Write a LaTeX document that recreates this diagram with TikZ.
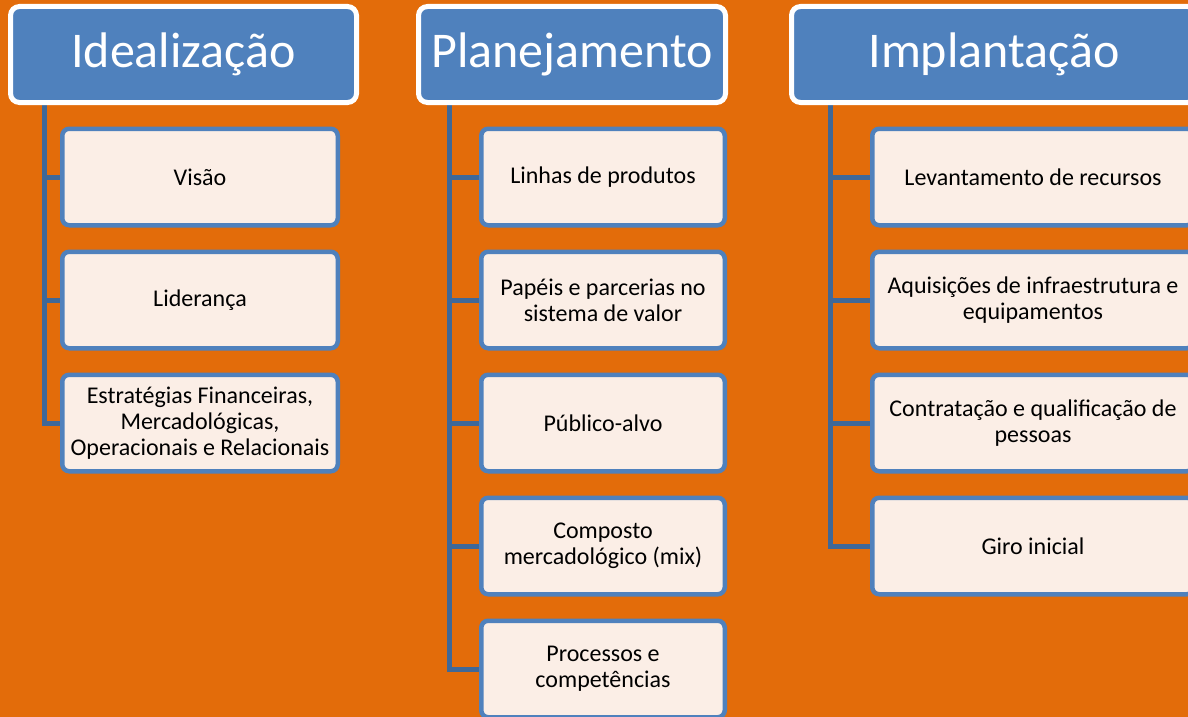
\documentclass[tikz,border=0pt]{standalone}
\usepackage{fontspec}
\setmainfont{Carlito}
\usetikzlibrary{backgrounds}
\definecolor{bgorange}{HTML}{E36C0A}
\definecolor{hdblue}{HTML}{4F81BD}
\definecolor{linkblue}{HTML}{3F6898}
\definecolor{itemfill}{HTML}{FBEEE6}

\begin{document}
\begin{tikzpicture}[x=1pt, y=-1pt,
    head/.style={draw=white, line width=5pt, fill=hdblue, rounded corners=9pt,
        text=white, font=\fontsize{50}{56}\selectfont, inner sep=0pt, minimum height=96pt},
    item/.style={draw=hdblue, line width=4.5pt, fill=itemfill, rounded corners=7pt,
        align=center, font=\fontsize{24}{26}\selectfont, inner sep=0pt, minimum height=96.5pt},
    branch/.style={draw=linkblue, line width=5pt}]
    \path[use as bounding box, clip] (0,0) rectangle (1188,717);

    \node[head, minimum width=346pt] (ideal) at (183.5,54.5) {Idealização};
    \node[head, minimum width=307pt] (plan) at (572,54.5) {Planejamento};
    \node[head, minimum width=405pt] (impl) at (994,54.5) {Implantação};

    \node[item, minimum width=275.5pt] (ideal1) at (200,177) {Visão};
    \node[item, minimum width=275.5pt] (ideal2) at (200,300) {Liderança};
    \node[item, minimum width=275.5pt] (ideal3) at (200,423) {Estratégias Financeiras,\\Mercadológicas,\\Operacionais e Relacionais};

    \node[item, minimum width=243.5pt] (plan1) at (603,177) {Linhas de produtos};
    \node[item, minimum width=243.5pt] (plan2) at (603,300) {Papéis e parcerias no\\sistema de valor};
    \node[item, minimum width=243.5pt] (plan3) at (603,423) {Público-alvo};
    \node[item, minimum width=243.5pt] (plan4) at (603,546) {Composto\\mercadológico (mix)};
    \node[item, minimum width=243.5pt] (plan5) at (603,669) {Processos e\\competências};

    \node[item, minimum width=321.5pt] (impl1) at (1033,177) {Levantamento de recursos};
    \node[item, minimum width=321.5pt] (impl2) at (1033,300) {Aquisições de infraestrutura e\\equipamentos};
    \node[item, minimum width=321.5pt] (impl3) at (1033,423) {Contratação e qualificação de\\pessoas};
    \node[item, minimum width=321.5pt] (impl4) at (1033,546) {Giro inicial};

    \coordinate (idealtop) at (44,104);
    \coordinate (plantop) at (449,104);
    \coordinate (impltop) at (830,104);

    \begin{scope}[on background layer]
    \fill[bgorange] (0,0) rectangle (1188,717);
    \draw[branch] (idealtop) |- (ideal3.west);
    \draw[branch] (idealtop |- ideal1.west) -- (ideal1.west);
    \draw[branch] (idealtop |- ideal2.west) -- (ideal2.west);
    \draw[branch] (plantop) |- (plan5.west);
    \draw[branch] (plantop |- plan1.west) -- (plan1.west);
    \draw[branch] (plantop |- plan2.west) -- (plan2.west);
    \draw[branch] (plantop |- plan3.west) -- (plan3.west);
    \draw[branch] (plantop |- plan4.west) -- (plan4.west);
    \draw[branch] (impltop) |- (impl4.west);
    \draw[branch] (impltop |- impl1.west) -- (impl1.west);
    \draw[branch] (impltop |- impl2.west) -- (impl2.west);
    \draw[branch] (impltop |- impl3.west) -- (impl3.west);
    \end{scope}
\end{tikzpicture}
\end{document}
